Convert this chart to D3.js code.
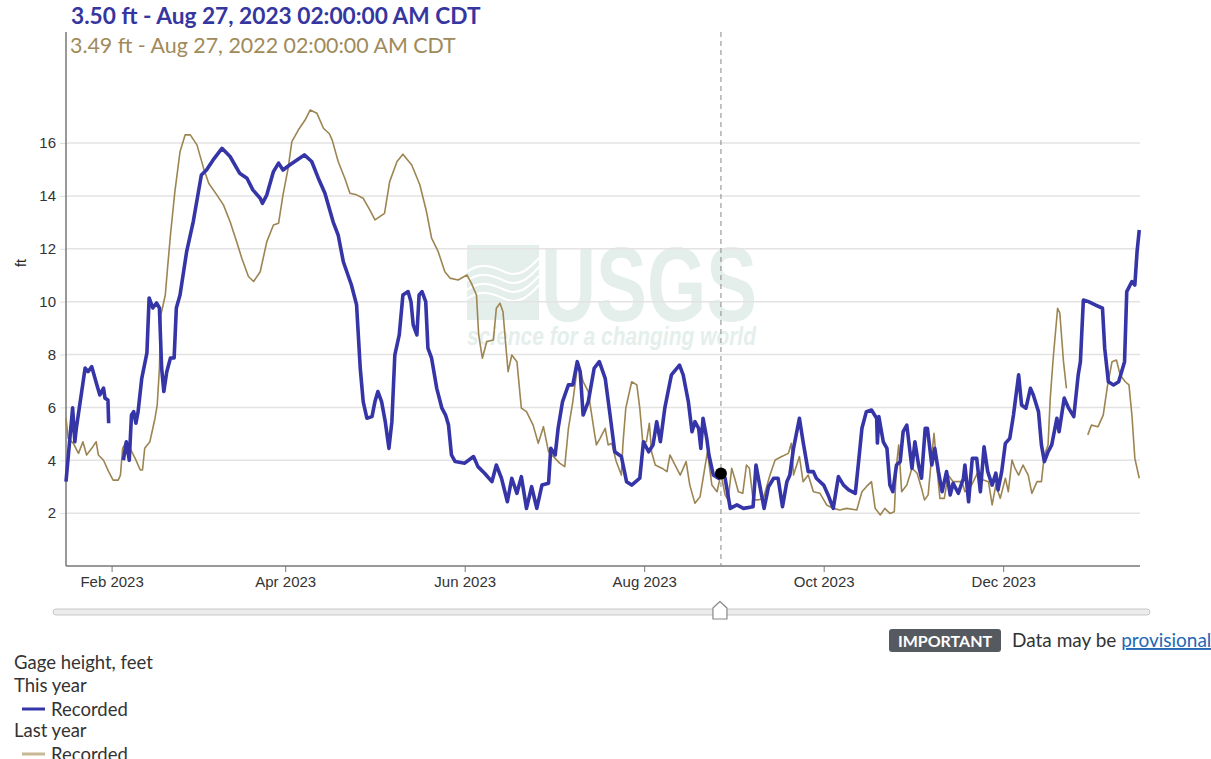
<!DOCTYPE html>
<html>
<head>
<meta charset="utf-8">
<script src="https://cdn.jsdelivr.net/npm/d3@7"></script>
<style>
  html, body { margin: 0; padding: 0; background: #fff; }
  svg { display: block; }
</style>
</head>
<body>
<svg id="chart" width="1211" height="759"></svg>
<script>
// Gage height, feet — recorded this year (Jan 2023 – Jan 2024)
const thisYear = [
  ["2023-01-16T12",3.19],["2023-01-18T18",5.98],["2023-01-19T12",4.70],["2023-01-20T00",5.20],
  ["2023-01-23T00",7.49],["2023-01-24T00",7.35],["2023-01-25T06",7.54],["2023-01-27T00",6.85],
  ["2023-01-28T00",6.47],["2023-01-29T06",6.73],["2023-01-29T18",6.35],["2023-01-30T18",6.28],
  ["2023-01-31T00",5.40],["2023-02-01T00",null],
  ["2023-02-05T00",4.00],["2023-02-06T00",4.70],["2023-02-07T00",4.00],["2023-02-07T18",5.71],
  ["2023-02-08T12",5.84],["2023-02-09T06",5.40],["2023-02-10T00",5.84],["2023-02-11T06",7.10],
  ["2023-02-13T00",8.06],["2023-02-13T18",10.14],["2023-02-15T00",9.76],["2023-02-16T06",9.95],
  ["2023-02-17T06",9.76],["2023-02-18T00",7.49],["2023-02-18T18",6.60],["2023-02-19T18",7.35],
  ["2023-02-21T00",7.87],["2023-02-22T06",7.87],["2023-02-23T00",9.76],["2023-02-24T06",10.25],
  ["2023-02-26T12",11.89],["2023-02-28T18",13.03],["2023-03-03T12",14.79],["2023-03-05T06",14.98],
  ["2023-03-07T12",15.36],["2023-03-10T12",15.80],["2023-03-13T06",15.49],["2023-03-16T12",14.86],
  ["2023-03-19T00",14.67],["2023-03-21T00",14.23],["2023-03-23T12",13.91],["2023-03-24T06",13.72],
  ["2023-03-25T18",14.04],["2023-03-28T00",14.92],["2023-03-29T18",15.24],["2023-03-31T06",14.98],
  ["2023-04-02T12",15.17],["2023-04-05T00",15.36],["2023-04-07T12",15.55],["2023-04-10T00",15.30],
  ["2023-04-12T06",14.67],["2023-04-14T12",14.10],["2023-04-17T06",13.03],["2023-04-19T00",12.52],
  ["2023-04-20T18",11.51],["2023-04-23T12",10.63],["2023-04-25T06",9.88],["2023-04-26T12",7.48],
  ["2023-04-27T12",6.22],["2023-04-28T18",5.59],["2023-04-30T12",5.65],["2023-05-01T12",6.22],
  ["2023-05-02T12",6.60],["2023-05-03T18",6.22],["2023-05-05T00",5.46],["2023-05-06T06",4.45],
  ["2023-05-07T06",5.46],["2023-05-08T06",7.98],["2023-05-09T18",8.74],["2023-05-11T00",10.25],
  ["2023-05-12T18",10.38],["2023-05-13T18",10.00],["2023-05-14T12",9.12],["2023-05-15T18",8.74],
  ["2023-05-16T12",10.25],["2023-05-17T12",10.38],["2023-05-18T18",10.00],["2023-05-19T12",8.24],
  ["2023-05-20T18",7.86],["2023-05-22T12",6.72],["2023-05-24T06",5.97],["2023-05-25T12",5.71],
  ["2023-05-26T12",5.33],["2023-05-27T12",4.20],["2023-05-28T18",3.95],["2023-06-01T00",3.89],
  ["2023-06-04T00",4.14],["2023-06-05T12",3.76],["2023-06-07T18",3.51],["2023-06-10T06",3.19],
  ["2023-06-11T18",3.82],["2023-06-13T12",3.32],["2023-06-15T12",2.43],["2023-06-17T00",3.32],
  ["2023-06-18T18",2.75],["2023-06-20T06",3.38],["2023-06-22T00",2.18],["2023-06-23T18",3.00],
  ["2023-06-25T12",2.18],["2023-06-27T06",3.06],["2023-06-29T12",3.13],["2023-06-30T06",4.45],
  ["2023-07-01T18",4.20],["2023-07-02T18",5.21],["2023-07-04T06",6.22],["2023-07-06T06",6.85],
  ["2023-07-07T18",6.85],["2023-07-09T06",7.73],["2023-07-10T06",7.35],["2023-07-11T06",5.71],
  ["2023-07-13T00",6.22],["2023-07-15T00",7.48],["2023-07-16T18",7.73],["2023-07-18T18",7.10],
  ["2023-07-20T06",5.84],["2023-07-22T00",4.32],["2023-07-24T06",4.14],["2023-07-26T00",3.19],
  ["2023-07-27T18",3.06],["2023-07-30T12",3.32],["2023-07-31T18",4.70],["2023-08-02T12",4.32],
  ["2023-08-04T00",4.58],["2023-08-05T06",5.46],["2023-08-06T12",4.70],["2023-08-08T00",5.97],
  ["2023-08-10T06",7.23],["2023-08-13T00",7.60],["2023-08-14T06",7.23],["2023-08-16T00",6.22],
  ["2023-08-17T06",5.08],["2023-08-18T06",5.46],["2023-08-19T12",5.21],["2023-08-20T06",4.45],
  ["2023-08-21T00",5.59],["2023-08-22T06",4.83],["2023-08-23T00",4.20],["2023-08-24T12",3.44],
  ["2023-08-26T06",3.32],["2023-08-27T02",3.50],["2023-08-28T12",3.32],["2023-08-30T06",2.18],
  ["2023-09-01T12",2.31],["2023-09-03T18",2.18],["2023-09-07T00",2.24],["2023-09-08T00",3.82],
  ["2023-09-09T06",3.06],["2023-09-10T18",2.18],["2023-09-12T06",3.00],["2023-09-14T00",3.32],
  ["2023-09-15T12",3.32],["2023-09-17T00",2.24],["2023-09-18T12",3.19],["2023-09-19T12",3.44],
  ["2023-09-20T18",4.45],["2023-09-22T18",5.59],["2023-09-24T00",4.70],["2023-09-25T18",3.57],
  ["2023-09-27T12",3.57],["2023-09-28T12",3.32],["2023-10-01T00",3.06],["2023-10-02T12",2.69],
  ["2023-10-04T06",2.18],["2023-10-06T00",3.38],["2023-10-07T18",3.06],["2023-10-09T12",2.88],
  ["2023-10-11T18",2.75],["2023-10-12T18",3.82],["2023-10-14T00",5.21],["2023-10-15T12",5.84],
  ["2023-10-17T06",5.90],["2023-10-19T00",5.59],["2023-10-19T06",4.65],["2023-10-19T18",5.65],
  ["2023-10-21T06",4.70],["2023-10-22T12",4.45],["2023-10-23T12",3.06],["2023-10-24T12",2.81],
  ["2023-10-25T18",3.82],["2023-10-27T00",3.95],["2023-10-28T00",5.08],["2023-10-29T06",5.33],
  ["2023-10-31T00",3.70],["2023-11-01T00",4.70],["2023-11-02T06",3.82],["2023-11-03T06",3.32],
  ["2023-11-04T12",5.21],["2023-11-05T06",5.21],["2023-11-06T18",3.82],["2023-11-07T18",4.45],
  ["2023-11-09T00",3.57],["2023-11-10T06",2.81],["2023-11-11T18",3.57],["2023-11-13T00",2.69],
  ["2023-11-14T00",3.13],["2023-11-15T18",2.75],["2023-11-17T12",3.32],["2023-11-18T00",3.82],
  ["2023-11-19T06",2.43],["2023-11-20T12",4.07],["2023-11-22T00",4.07],["2023-11-23T06",2.81],
  ["2023-11-24T12",4.51],["2023-11-25T18",3.57],["2023-11-27T06",3.06],["2023-11-28T12",3.51],
  ["2023-11-29T06",2.88],["2023-11-30T12",3.57],["2023-12-01T18",4.64],["2023-12-03T06",4.83],
  ["2023-12-04T12",5.71],["2023-12-06T06",7.23],["2023-12-07T06",6.09],["2023-12-08T18",5.97],
  ["2023-12-10T06",6.72],["2023-12-11T06",6.47],["2023-12-13T00",5.84],["2023-12-14T00",4.58],
  ["2023-12-15T00",3.95],["2023-12-16T06",4.32],["2023-12-17T12",4.58],["2023-12-19T06",5.59],
  ["2023-12-20T00",5.08],["2023-12-21T18",6.35],["2023-12-23T06",5.97],["2023-12-25T00",5.65],
  ["2023-12-26T12",7.23],["2023-12-27T06",7.73],["2023-12-28T06",10.06],["2023-12-30T00",10.00],
  ["2024-01-01T06",9.88],["2024-01-03T18",9.75],["2024-01-04T12",8.24],["2024-01-05T18",6.97],
  ["2024-01-07T12",6.85],["2024-01-09T06",6.97],["2024-01-10T06",7.35],["2024-01-11T06",7.73],
  ["2024-01-12T00",10.38],["2024-01-13T18",10.76],["2024-01-14T18",10.63],["2024-01-15T12",11.89],
  ["2024-01-16T06",12.71]
];

// Gage height, feet — recorded last year (Jan 2022 – Jan 2023), drawn on this year's calendar
const lastYear = [
  ["2022-01-16T12",5.59],["2022-01-17T06",4.83],["2022-01-19T00",4.64],["2022-01-20T18",4.26],
  ["2022-01-22T06",4.70],["2022-01-23T12",4.20],["2022-01-25T06",4.45],["2022-01-26T18",4.70],
  ["2022-01-27T12",4.20],["2022-01-29T06",4.00],["2022-01-31T00",3.57],["2022-02-01T12",3.25],
  ["2022-02-03T06",3.25],["2022-02-04T00",3.44],["2022-02-04T18",4.45],["2022-02-06T00",4.70],
  ["2022-02-07T06",4.45],["2022-02-09T00",4.07],["2022-02-10T18",3.63],["2022-02-11T12",3.63],
  ["2022-02-12T06",4.45],["2022-02-14T00",4.70],["2022-02-15T18",5.59],["2022-02-16T12",6.09],
  ["2022-02-17T06",7.48],["2022-02-17T18",9.50],["2022-02-19T06",10.25],["2022-02-20T00",11.26],
  ["2022-02-21T00",12.52],["2022-02-22T12",14.16],["2022-02-24T06",15.67],["2022-02-26T00",16.31],
  ["2022-02-27T18",16.31],["2022-03-02T00",15.93],["2022-03-04T06",15.05],["2022-03-06T00",14.48],
  ["2022-03-08T18",14.04],["2022-03-11T00",13.66],["2022-03-13T06",13.03],["2022-03-15T12",12.27],
  ["2022-03-17T06",11.64],["2022-03-19T12",10.95],["2022-03-21T06",10.76],["2022-03-23T12",11.13],
  ["2022-03-25T18",12.27],["2022-03-28T00",12.90],["2022-03-29T18",12.97],["2022-03-31T06",14.04],
  ["2022-04-02T00",15.05],["2022-04-03T06",16.05],["2022-04-05T12",16.50],["2022-04-07T18",16.87],
  ["2022-04-09T12",17.25],["2022-04-11T18",17.13],["2022-04-14T00",16.56],["2022-04-16T00",16.35],
  ["2022-04-17T00",16.10],["2022-04-19T00",15.30],["2022-04-21T06",14.67],["2022-04-23T00",14.10],
  ["2022-04-25T06",14.04],["2022-04-27T12",13.91],["2022-04-29T18",13.47],["2022-05-01T12",13.09],
  ["2022-05-04T18",13.34],["2022-05-06T12",14.54],["2022-05-09T00",15.30],["2022-05-11T00",15.58],
  ["2022-05-14T00",15.17],["2022-05-16T18",14.42],["2022-05-19T00",13.41],["2022-05-20T18",12.40],
  ["2022-05-23T00",11.89],["2022-05-25T06",11.13],["2022-05-27T00",10.89],["2022-05-29T18",10.82],
  ["2022-06-01T18",11.01],["2022-06-03T06",10.70],["2022-06-05T00",10.25],["2022-06-05T18",8.74],
  ["2022-06-07T00",7.86],["2022-06-08T12",8.49],["2022-06-10T18",8.55],["2022-06-11T18",9.75],
  ["2022-06-13T00",9.94],["2022-06-14T00",9.62],["2022-06-15T06",7.98],["2022-06-15T18",7.35],
  ["2022-06-17T00",7.98],["2022-06-18T18",7.73],["2022-06-20T06",5.97],["2022-06-22T00",5.84],
  ["2022-06-24T06",5.33],["2022-06-26T00",4.64],["2022-06-27T18",5.27],["2022-06-29T12",4.32],
  ["2022-07-01T18",4.07],["2022-07-03T06",3.89],["2022-07-05T00",3.76],["2022-07-06T06",5.21],
  ["2022-07-07T18",6.22],["2022-07-09T12",7.73],["2022-07-11T06",6.97],["2022-07-13T00",6.60],
  ["2022-07-13T12",6.20],["2022-07-15T00",5.10],["2022-07-15T18",4.58],["2022-07-17T00",4.83],
  ["2022-07-18T18",5.21],["2022-07-19T18",4.58],["2022-07-21T00",4.64],["2022-07-22T12",3.95],
  ["2022-07-24T06",3.44],["2022-07-24T18",4.58],["2022-07-25T18",5.97],["2022-07-27T18",6.97],
  ["2022-07-29T12",6.85],["2022-07-30T12",5.97],["2022-07-31T12",4.70],["2022-08-01T18",4.70],
  ["2022-08-02T18",5.40],["2022-08-03T12",4.32],["2022-08-04T18",3.82],["2022-08-07T00",3.70],
  ["2022-08-08T18",3.57],["2022-08-09T18",4.20],["2022-08-11T12",3.82],["2022-08-13T06",3.44],
  ["2022-08-15T06",3.95],["2022-08-16T12",3.06],["2022-08-18T06",2.37],["2022-08-20T00",2.62],
  ["2022-08-21T18",3.82],["2022-08-22T12",4.32],["2022-08-24T00",3.06],["2022-08-25T18",2.81],
  ["2022-08-27T02",3.49],["2022-08-28T12",2.69],["2022-08-29T12",2.50],["2022-08-30T18",3.70],
  ["2022-08-31T18",3.32],["2022-09-02T00",2.81],["2022-09-03T12",2.75],["2022-09-04T18",3.82],
  ["2022-09-05T18",3.70],["2022-09-07T00",2.50],["2022-09-08T18",2.50],["2022-09-10T12",2.56],
  ["2022-09-12T18",3.44],["2022-09-14T12",4.01],["2022-09-16T18",4.14],["2022-09-19T00",4.26],
  ["2022-09-20T00",4.64],["2022-09-20T18",3.44],["2022-09-22T18",4.14],["2022-09-24T00",3.19],
  ["2022-09-25T18",3.44],["2022-09-27T12",2.81],["2022-09-29T18",2.75],["2022-10-02T00",2.31],
  ["2022-10-04T06",2.18],["2022-10-06T12",2.12],["2022-10-08T18",2.18],["2022-10-12T06",2.12],
  ["2022-10-14T00",2.81],["2022-10-15T12",3.00],["2022-10-17T06",3.19],["2022-10-18T12",2.18],
  ["2022-10-20T06",1.93],["2022-10-21T18",2.18],["2022-10-23T12",1.99],["2022-10-25T00",2.05],
  ["2022-10-25T18",3.82],["2022-10-26T12",4.58],["2022-10-27T12",2.81],["2022-10-29T06",3.06],
  ["2022-10-31T00",3.70],["2022-11-01T18",3.51],["2022-11-03T06",2.94],["2022-11-04T06",2.50],
  ["2022-11-05T12",2.69],["2022-11-06T18",4.20],["2022-11-07T12",5.02],["2022-11-08T12",3.70],
  ["2022-11-09T12",2.56],["2022-11-11T00",2.56],["2022-11-12T06",3.44],["2022-11-14T00",3.19],
  ["2022-11-17T00",3.19],["2022-11-18T00",2.81],["2022-11-20T06",3.06],["2022-11-22T12",3.57],
  ["2022-11-24T06",3.25],["2022-11-26T00",3.19],["2022-11-27T06",2.31],["2022-11-28T12",3.06],
  ["2022-11-30T00",2.56],["2022-12-01T18",3.32],["2022-12-02T18",2.81],["2022-12-04T00",4.01],
  ["2022-12-05T00",3.70],["2022-12-06T06",3.44],["2022-12-07T18",3.82],["2022-12-09T12",3.44],
  ["2022-12-10T18",2.75],["2022-12-12T12",3.19],["2022-12-14T00",3.19],["2022-12-15T00",4.20],
  ["2022-12-16T06",4.58],["2022-12-17T00",6.35],["2022-12-18T00",7.86],["2022-12-19T12",9.75],
  ["2022-12-20T06",9.56],["2022-12-21T12",7.73],["2022-12-22T12",6.72],["2022-12-23T00",null],
  ["2022-12-29T18",4.96],["2022-12-31T00",5.33],["2023-01-02T06",5.27],["2023-01-04T00",5.71],
  ["2023-01-05T12",6.85],["2023-01-07T00",7.73],["2023-01-08T12",7.79],["2023-01-09T18",7.23],
  ["2023-01-11T12",6.97],["2023-01-12T18",6.85],["2023-01-13T18",5.71],["2023-01-14T18",4.07],
  ["2023-01-16T06",3.32]
];

const yTickValues = [2, 4, 6, 8, 10, 12, 14, 16];
const xTickDates = ["2023-02-01", "2023-04-01", "2023-06-01", "2023-08-01", "2023-10-01", "2023-12-01"];
const hover = { date: "2023-08-27T02", thisYearValue: 3.50, lastYearValue: 3.49 };
const headerThisYear = "3.50 ft - Aug 27, 2023 02:00:00 AM CDT";
const headerLastYear = "3.49 ft - Aug 27, 2022 02:00:00 AM CDT";
const legendLines = ["Gage height, feet", "This year", "Recorded", "Last year", "Recorded"];

const BLUE = "#3535a8";
const TAN = "#9c8552";
const SANS = "Lato, 'Noto Sans', sans-serif";
const AXISFONT = "'Liberation Sans', Arial, sans-serif";

const parseT = d3.timeParse("%Y-%m-%dT%H");
const parseD = d3.timeParse("%Y-%m-%d");

const blue = thisYear.map(([t, v]) => ({ t: parseT(t), v }));
const tan = lastYear.map(([t, v]) => ({ t: d3.timeYear.offset(parseT(t), 1), v }));

const svg = d3.select("#chart");
const L = 66, R = 1140, T = 32, B = 566;

const x = d3.scaleTime()
  .domain([parseT("2023-01-16T12"), parseT("2024-01-16T12")])
  .range([L, R]);
const y = d3.scaleLinear().domain([0, 20.2]).range([B, T]);

// Watermark
const wm = svg.append("g").attr("fill", "#e4efec");
wm.append("rect").attr("x", 467).attr("y", 245).attr("width", 72).attr("height", 75);
const waves = wm.append("g").attr("fill", "none").attr("stroke", "#fff").attr("stroke-width", 2.2);
[0, 9, 18, 27].forEach(dy => {
  waves.append("path").attr("d",
    `M467,${272 + dy} C480,${262 + dy} 492,${266 + dy} 505,${272 + dy} S528,${270 + dy} 539,${258 + dy}`);
});
wm.append("text")
  .attr("x", 541).attr("y", 321)
  .attr("font-family", "'Liberation Sans', Arial, sans-serif")
  .attr("font-weight", "bold").attr("font-size", 106)
  .attr("textLength", 216).attr("lengthAdjust", "spacingAndGlyphs")
  .text("USGS");
wm.append("text")
  .attr("x", 467).attr("y", 345)
  .attr("font-family", "'Liberation Sans', Arial, sans-serif")
  .attr("font-weight", "bold").attr("font-style", "italic").attr("font-size", 25)
  .attr("textLength", 289).attr("lengthAdjust", "spacingAndGlyphs")
  .text("science for a changing world");

// Horizontal grid
svg.append("g").selectAll("line").data(yTickValues).join("line")
  .attr("x1", L).attr("x2", R)
  .attr("y1", d => y(d)).attr("y2", d => y(d))
  .attr("stroke", "#e3e3e3").attr("stroke-width", 1.5);

// Y axis
const yAxis = svg.append("g").attr("transform", `translate(${L},0)`)
  .call(d3.axisLeft(y).tickValues(yTickValues).tickSize(6).tickPadding(4).tickFormat(d3.format("d")));
yAxis.select(".domain").remove();
yAxis.selectAll(".tick line").attr("stroke", "#ddd");
yAxis.selectAll("text").attr("font-family", AXISFONT).attr("font-size", 15).attr("fill", "#333");
svg.append("line").attr("x1", L).attr("x2", L).attr("y1", T).attr("y2", B)
  .attr("stroke", "#777").attr("stroke-width", 1.5);

svg.append("text")
  .attr("transform", `translate(26,${(T + B) / 2 - 36}) rotate(-90)`)
  .attr("text-anchor", "middle")
  .attr("font-family", AXISFONT).attr("font-size", 14).attr("fill", "#222")
  .text("ft");

// X axis
const xAxis = svg.append("g").attr("transform", `translate(0,${B})`)
  .call(d3.axisBottom(x).tickValues(xTickDates.map(parseD)).tickSize(6).tickPadding(4)
    .tickFormat(d3.timeFormat("%b %Y")));
xAxis.select(".domain").remove();
xAxis.selectAll(".tick line").attr("stroke", "#777");
xAxis.selectAll("text").attr("font-family", AXISFONT).attr("font-size", 15).attr("fill", "#333");
svg.append("line").attr("x1", L).attr("x2", R).attr("y1", B).attr("y2", B)
  .attr("stroke", "#777").attr("stroke-width", 1.5);

// Series
const line = d3.line().defined(d => d.v != null).x(d => x(d.t)).y(d => y(d.v));
svg.append("path").datum(tan).attr("d", line)
  .attr("fill", "none").attr("stroke", TAN).attr("stroke-width", 1.6).attr("stroke-linejoin", "round");
svg.append("path").datum(blue).attr("d", line)
  .attr("fill", "none").attr("stroke", BLUE).attr("stroke-width", 3.6).attr("stroke-linejoin", "round");

// Hover cursor
const hx = x(parseT(hover.date));
svg.append("line").attr("x1", hx).attr("x2", hx).attr("y1", T).attr("y2", B)
  .attr("stroke", "#888").attr("stroke-width", 1).attr("stroke-dasharray", "5,4");
svg.append("circle").attr("cx", hx).attr("cy", y(hover.thisYearValue)).attr("r", 6).attr("fill", "#000");

// Header readouts
function fitWidth(sel, w) {
  const n = sel.node();
  const cur = n.getComputedTextLength();
  const fs = parseFloat(sel.attr("font-size"));
  sel.attr("font-size", fs * w / cur);
}
const h1 = svg.append("text").attr("x", 71).attr("y", 24)
  .attr("font-family", SANS).attr("font-weight", "bold").attr("font-size", 21)
  .attr("fill", "#3636a0").text(headerThisYear);
fitWidth(h1, 410);
const h2 = svg.append("text").attr("x", 70).attr("y", 53)
  .attr("font-family", SANS).attr("font-size", 20)
  .attr("fill", "#a08a5a").text(headerLastYear);
fitWidth(h2, 386);

// Range slider
svg.append("rect").attr("x", 53).attr("y", 609).attr("width", 1097).attr("height", 6).attr("rx", 3)
  .attr("fill", "#ececec").attr("stroke", "#c8c8c8");
svg.append("path")
  .attr("d", `M${hx - 8},619 L${hx - 8},608 L${hx - 1},601.5 L${hx + 6},608 L${hx + 6},619 Z`)
  .attr("fill", "#fff").attr("stroke", "#888").attr("stroke-width", 1.2).attr("stroke-linejoin", "round");

// Provisional-data note
svg.append("rect").attr("x", 889).attr("y", 629).attr("width", 112).attr("height", 23).attr("rx", 3)
  .attr("fill", "#555a61");
svg.append("text").attr("x", 945).attr("y", 647).attr("text-anchor", "middle")
  .attr("font-family", SANS).attr("font-weight", "bold").attr("font-size", 16).attr("fill", "#fff")
  .text("IMPORTANT");
const note = svg.append("text").attr("x", 1012).attr("y", 647)
  .attr("font-family", SANS).attr("font-size", 19).attr("fill", "#333");
note.append("tspan").text("Data may be ");
note.append("tspan").attr("fill", "#2368b4").attr("text-decoration", "underline").text("provisional");

// Legend
const lg = svg.append("g").attr("font-family", SANS).attr("font-size", 18.5).attr("fill", "#333");
lg.append("text").attr("x", 14).attr("y", 669).text(legendLines[0]);
lg.append("text").attr("x", 14).attr("y", 692).text(legendLines[1]);
lg.append("line").attr("x1", 22).attr("x2", 45).attr("y1", 709).attr("y2", 709)
  .attr("stroke", BLUE).attr("stroke-width", 3);
lg.append("text").attr("x", 51).attr("y", 716).text(legendLines[2]);
lg.append("text").attr("x", 14).attr("y", 737).text(legendLines[3]);
lg.append("line").attr("x1", 22).attr("x2", 45).attr("y1", 754).attr("y2", 754)
  .attr("stroke", "#c6b994").attr("stroke-width", 3);
lg.append("text").attr("x", 51).attr("y", 761).text(legendLines[4]);
</script>
</body>
</html>
